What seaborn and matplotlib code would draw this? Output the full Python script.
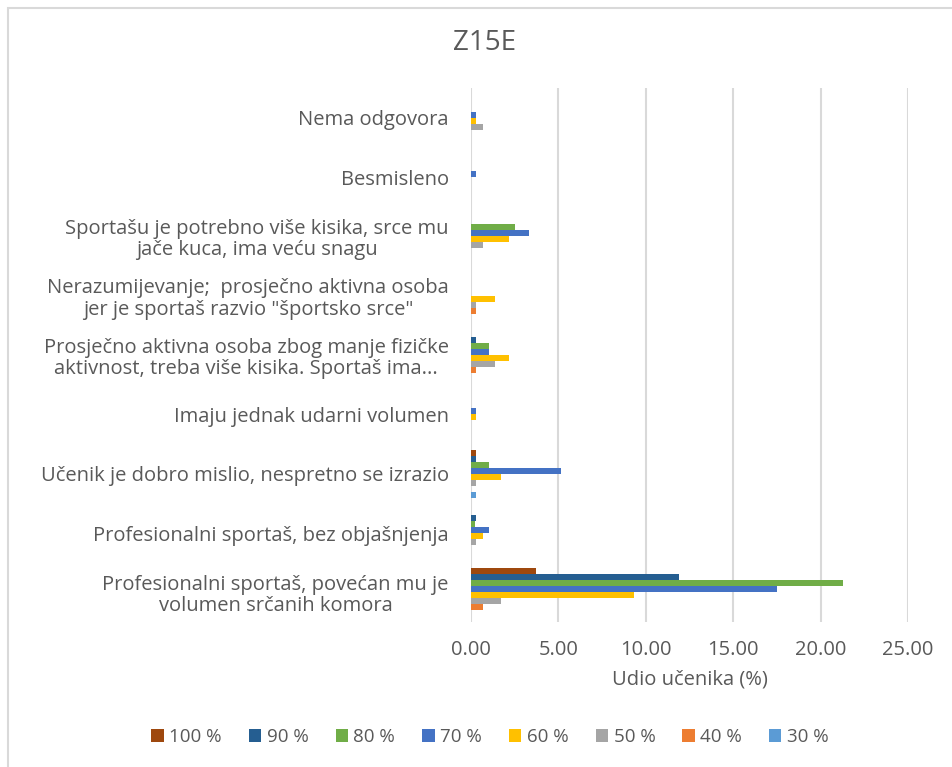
import pandas as pd
import matplotlib.pyplot as plt
import seaborn as sns
from matplotlib.patches import Rectangle

TEXT_COLOR = '#595959'
GRID_COLOR = '#D9D9D9'

categories = [
    'Nema odgovora',
    'Besmisleno',
    'Sportašu je potrebno više kisika, srce mu\njače kuca, ima veću snagu',
    'Nerazumijevanje;  prosječno aktivna osoba\njer je sportaš razvio "športsko srce"',
    'Prosječno aktivna osoba zbog manje fizičke\naktivnost, treba više kisika. Sportaš ima...',
    'Imaju jednak udarni volumen',
    'Učenik je dobro mislio, nespretno se izrazio',
    'Profesionalni sportaš, bez objašnjenja',
    'Profesionalni sportaš, povećan mu je\nvolumen srčanih komora',
]

series_names = ['100 %', '90 %', '80 %', '70 %', '60 %', '50 %', '40 %', '30 %']

p100 = [0, 0, 0, 0, 0, 0, 0.27, 0, 3.7]
p90 = [0, 0, 0, 0, 0.27, 0, 0.27, 0.27, 11.9]
p80 = [0, 0, 2.5, 0, 1.05, 0, 1.05, 0.22, 21.3]
p70 = [0.27, 0.27, 3.3, 0, 1.05, 0.27, 5.15, 1.05, 17.5]
p60 = [0.27, 0, 2.15, 1.37, 2.2, 0.27, 1.72, 0.7, 9.3]
p50 = [0.7, 0, 0.66, 0.27, 1.37, 0, 0.27, 0.27, 1.7]
p40 = [0, 0, 0, 0.27, 0.27, 0, 0, 0, 0.66]
p30 = [0, 0, 0, 0, 0, 0, 0.27, 0, 0]

colors = ['#9E480E', '#255E91', '#70AD47', '#4472C4', '#FFC000', '#A5A5A5', '#ED7D31', '#5B9BD5']

all_values = [p100, p90, p80, p70, p60, p50, p40, p30]
rows = []
for name, vals in zip(series_names, all_values):
    for cat, v in zip(categories, vals):
        rows.append({'Odgovor': cat, 'Udio': v, 'Serija': name})
df = pd.DataFrame(rows)

sns.set_style('white')
plt.rcParams['font.family'] = ['Open Sans', 'DejaVu Sans']

fig = plt.figure(figsize=(9.52, 7.67), dpi=100)
ax = fig.add_axes([471 / 952, 1 - 622 / 767, (908 - 471) / 952, (622 - 88) / 767])

sns.barplot(data=df, y='Odgovor', x='Udio', hue='Serija', order=categories,
            hue_order=series_names, palette=dict(zip(series_names, colors)),
            orient='h', width=0.81, saturation=1, linewidth=0, errorbar=None, ax=ax,
            legend=True, zorder=3)

ax.set_xlim(0, 25)
ax.set_ylim(len(categories) - 0.5, -0.5)
ax.set_xticks([0, 5, 10, 15, 20, 25])
ax.set_xticklabels([f'{t:.2f}' for t in [0, 5, 10, 15, 20, 25]])
ax.grid(True, axis='x', color=GRID_COLOR, linewidth=1.5, zorder=0)
ax.grid(False, axis='y')
ax.set_axisbelow(True)
for s in ax.spines.values():
    s.set_visible(False)
ax.tick_params(axis='both', length=0, colors=TEXT_COLOR, labelsize=14.5)
ax.tick_params(axis='y', pad=16)
ax.tick_params(axis='x', pad=13)
for lbl in ax.get_yticklabels():
    lbl.set_multialignment('center')
    lbl.set_linespacing(1.1)
ax.set_ylabel('')
ax.set_xlabel('Udio učenika (%)', color=TEXT_COLOR, fontsize=14.5, labelpad=7)

handles, labels = ax.get_legend_handles_labels()
ax.get_legend().remove()
fig.legend(handles, labels, loc='center', bbox_to_anchor=(490 / 952, 1 - 737 / 767),
           ncol=8, frameon=False, fontsize=13.5, labelcolor=TEXT_COLOR,
           handlelength=0.65, handleheight=0.65, handletextpad=0.3, columnspacing=1.45)

fig.text(485 / 952, 1 - 43 / 767, 'Z15E', ha='center', va='center',
         fontsize=20, color=TEXT_COLOR)

fig.patches.append(Rectangle((8 / 952, -0.1), 1.2, 1.1 - 8 / 767,
                             transform=fig.transFigure, fill=False,
                             edgecolor=GRID_COLOR, linewidth=1.5))

fig.savefig('out.png', dpi=100, facecolor='white')
